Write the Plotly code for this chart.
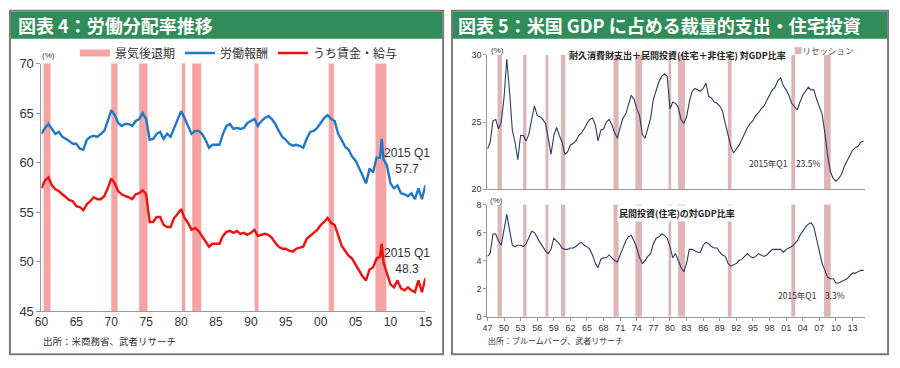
import plotly.graph_objects as go

# ---------------- DATA ----------------
# Left chart (図表4): half-yearly observations 1960.0 ... 2015.0 (+ 2008Q4 spike)
left_years = [1960 + 0.5 * i for i in range(97)] + [2008.5, 2008.75] + [2009 + 0.5 * i for i in range(13)]

labor_comp = [
    62.9, 63.5, 63.9, 63.4, 62.9, 63.1, 62.6, 62.4, 62.1, 61.9,   # 60-64
    61.9, 61.4, 61.3, 62.3, 62.6, 62.7, 62.6, 62.9, 63.2, 64.2,   # 65-69
    65.3, 64.8, 64.0, 63.7, 63.9, 63.9, 63.7, 64.2, 64.4, 65.0,   # 70-74
    64.4, 62.3, 62.4, 62.9, 63.1, 62.4, 62.9, 62.6, 63.5, 64.4,   # 75-79
    65.2, 64.5, 63.7, 62.9, 63.2, 63.2, 62.9, 62.3, 61.5, 61.8,   # 80-84
    61.8, 61.8, 62.9, 63.7, 63.9, 63.4, 63.5, 63.4, 63.5, 64.0,   # 85-89
    64.2, 64.4, 63.7, 64.2, 64.5, 64.7, 64.4, 63.9, 63.2, 62.6,   # 90-94
    62.3, 61.9, 61.7, 61.8, 61.7, 61.5, 62.4, 63.1, 63.2, 63.5,   # 95-99
    64.0, 64.5, 64.8, 64.4, 64.2, 62.9, 62.3, 61.6, 61.3, 60.6,   # 00-04
    60.2, 59.5, 58.7, 57.9, 59.4, 59.0, 60.5, 60.5, 62.4,         # 05-08
    60.3, 59.7, 57.9, 57.4, 57.7, 56.9, 56.8, 56.6, 56.9, 56.3,   # 09-13
    57.4, 56.3, 57.7,                                             # 14-15
]
wages = [
    57.4, 58.2, 58.5, 57.7, 57.3, 57.1, 56.8, 56.5, 56.2, 56.1,
    55.6, 55.5, 55.2, 55.8, 56.1, 56.5, 56.3, 56.3, 56.6, 57.4,
    58.4, 57.9, 57.1, 56.8, 56.6, 56.5, 56.3, 56.8, 56.9, 57.2,
    56.8, 54.0, 54.0, 54.5, 54.5, 53.7, 53.5, 53.5, 54.4, 54.8,
    55.3, 54.4, 53.9, 53.2, 53.4, 53.1, 52.6, 52.1, 51.5, 51.8,
    51.8, 51.8, 52.6, 53.0, 53.1, 52.9, 53.1, 52.8, 52.9, 52.7,
    52.9, 53.2, 52.6, 52.7, 52.8, 52.7, 52.4, 51.9, 51.5, 51.3,
    51.3, 51.1, 51.0, 51.3, 51.4, 51.5, 52.3, 52.6, 52.9, 53.2,
    53.7, 54.0, 54.4, 53.9, 53.7, 52.6, 51.6, 51.1, 50.6, 50.3,
    49.7, 49.0, 48.5, 48.1, 49.2, 49.4, 50.3, 50.5, 51.8,
    49.9, 48.9, 47.7, 47.4, 48.1, 47.3, 47.1, 47.4, 47.1, 46.9,
    48.1, 46.9, 48.3,
]
left_rec_start = [1960.3, 1970.0, 1974.0, 1980.1, 1981.6, 1990.55, 2001.15, 2007.85]
left_rec_end = [1961.3, 1970.9, 1975.2, 1980.6, 1982.9, 1991.1, 2001.9, 2009.4]
left_xticks = [1960, 1965, 1970, 1975, 1980, 1985, 1990, 1995, 2000, 2005, 2010, 2015]
left_xlabels = ["60", "65", "70", "75", "80", "85", "90", "95", "00", "05", "10", "15"]

# Right chart (図表5): half-yearly 1947.0 ... 2015.0
right_years = [1947 + 0.5 * i for i in range(137)]
durable_invest = [
    23.0, 23.5, 25.1, 25.2, 24.5, 25.0, 26.8, 29.7, 27.3, 24.4,   # 47-51
    23.5, 22.2, 24.0, 24.0, 23.6, 24.1, 25.2, 26.2, 25.5, 25.4,   # 52-56
    25.2, 24.9, 23.8, 22.6, 24.0, 24.6, 24.0, 23.5, 22.6, 22.8,   # 57-61
    23.3, 23.4, 23.6, 24.0, 24.2, 24.5, 24.9, 25.2, 25.3, 24.8,   # 62-66
    23.6, 24.4, 24.5, 25.0, 25.2, 24.8, 24.2, 23.8, 24.6, 25.3,   # 67-71
    25.6, 26.4, 27.0, 26.7, 26.0, 25.5, 24.1, 23.8, 24.6, 25.3,   # 72-76
    26.7, 27.4, 28.0, 28.4, 28.6, 28.4, 26.0, 26.5, 26.4, 26.1,   # 77-81
    25.2, 24.9, 25.4, 26.5, 27.3, 27.5, 27.4, 27.3, 27.5, 27.9,   # 82-86
    26.9, 26.8, 26.5, 26.4, 26.2, 25.8, 24.9, 24.1, 23.2, 22.7,   # 87-91
    23.0, 23.3, 23.7, 24.2, 24.6, 24.9, 25.1, 25.5, 25.7, 26.0,   # 92-96
    26.2, 26.6, 27.0, 27.4, 27.6, 28.1, 28.3, 27.7, 27.4, 27.0,   # 97-01
    26.4, 26.1, 25.9, 26.5, 27.0, 27.3, 27.6, 27.4, 27.4, 26.7,   # 02-06
    26.1, 25.6, 24.2, 22.5, 21.3, 20.8, 20.6, 20.8, 21.1, 21.7,   # 07-11
    22.1, 22.5, 22.9, 23.1, 23.2, 23.5, 23.6,                     # 12-15
]
residential = [
    4.3, 4.5, 5.9, 5.9, 5.4, 5.1, 6.2, 7.3, 6.2, 5.1,
    5.0, 5.1, 5.1, 5.0, 5.2, 5.7, 6.1, 6.0, 5.6, 5.3,
    5.0, 4.7, 4.5, 4.8, 5.6, 5.4, 5.2, 4.9, 4.8, 4.8,
    4.9, 4.9, 5.0, 5.2, 5.3, 5.1, 5.0, 4.8, 4.4, 3.8,
    3.5, 4.1, 4.2, 4.2, 4.4, 4.2, 4.0, 3.9, 4.4, 5.0,
    5.4, 5.7, 5.8, 5.4, 4.9, 4.2, 3.8, 4.0, 4.3, 4.5,
    5.2, 5.6, 5.7, 5.9, 5.8, 5.6, 5.0, 4.2, 4.5, 4.0,
    3.5, 3.2, 3.8, 4.8, 4.8, 4.7, 4.6, 4.6, 5.1, 5.3,
    5.2, 5.0, 4.9, 4.9, 4.6, 4.4, 4.3, 3.8, 3.6, 3.7,
    3.8, 4.0, 4.1, 4.3, 4.5, 4.3, 4.2, 4.3, 4.5, 4.4,
    4.3, 4.4, 4.6, 4.8, 4.8, 4.8, 4.8, 4.6, 4.8, 4.9,
    5.0, 5.2, 5.4, 5.8, 6.1, 6.4, 6.6, 6.7, 6.4, 5.6,
    4.6, 3.8, 3.3, 2.8, 2.7, 2.7, 2.4, 2.4, 2.5, 2.6,
    2.7, 2.9, 3.1, 3.1, 3.2, 3.3, 3.3,
]
right_rec_start = [1948.83, 1953.46, 1957.5, 1960.29, 1969.78, 1973.74, 1979.74, 1981.47, 1990.47, 2001.93, 2007.85]
right_rec_end = [1949.62, 1954.06, 1958.03, 1961.06, 1970.72, 1974.94, 1980.22, 1982.71, 1991.13, 2002.64, 2009.05]
right_xticks = list(range(1947, 2014, 3))
right_xlabels = ["47", "50", "53", "56", "59", "62", "65", "68", "71", "74", "77", "80",
                 "83", "86", "89", "92", "95", "98", "01", "04", "07", "10", "13"]

# ---------------- STYLE ----------------
W, H = 900, 368
def px(x):
    return x / W
def py(y):
    return 1 - y / H

FONT = "Liberation Sans, Arial, Noto Sans CJK JP, sans-serif"
JP = "Noto Sans CJK JP, sans-serif"
GREEN = "#308D59"
LPINK = "#F6A3A3"
RPINK = "#DDB5B5"
BLUE = "#1F78C8"
RED = "#F01010"
NAVY = "#2B3A67"
AX = "#9a9a9a"

fig = go.Figure()

# legend entries (left)
fig.add_trace(go.Scatter(x=[None], y=[None], mode="lines", name="景気後退期",
                         line=dict(color=LPINK, width=7), xaxis="x", yaxis="y"))
fig.add_trace(go.Scatter(x=left_years, y=labor_comp, mode="lines", name="労働報酬",
                         line=dict(color=BLUE, width=2.4), xaxis="x", yaxis="y"))
fig.add_trace(go.Scatter(x=left_years, y=wages, mode="lines", name="うち賃金・給与",
                         line=dict(color=RED, width=2.4), xaxis="x", yaxis="y"))
fig.add_trace(go.Scatter(x=right_years, y=durable_invest, mode="lines", showlegend=False,
                         line=dict(color=NAVY, width=1.1), xaxis="x2", yaxis="y2"))
fig.add_trace(go.Scatter(x=right_years, y=residential, mode="lines", showlegend=False,
                         line=dict(color=NAVY, width=1.1), xaxis="x3", yaxis="y3"))

shapes = []
# panel frames and green headers
for x0, x1 in [(3, 443), (452, 895)]:
    shapes.append(dict(type="rect", xref="paper", yref="paper", x0=px(x0), x1=px(x1),
                       y0=py(362), y1=py(4), line=dict(color="#7a7a7a", width=2),
                       fillcolor="rgba(0,0,0,0)", layer="above"))
    shapes.append(dict(type="rect", xref="paper", yref="paper", x0=px(x0 + 1), x1=px(x1 - 1),
                       y0=py(33), y1=py(5), line=dict(width=0), fillcolor=GREEN, layer="below"))

# recession bands
for s, e in zip(left_rec_start, left_rec_end):
    shapes.append(dict(type="rect", xref="x", yref="y domain", x0=s, x1=e, y0=0, y1=1,
                       fillcolor=LPINK, line=dict(width=0), layer="below"))
for s, e in zip(right_rec_start, right_rec_end):
    for xr, yr in [("x2", "y2 domain"), ("x3", "y3 domain")]:
        shapes.append(dict(type="rect", xref=xr, yref=yr, x0=s, x1=e, y0=0, y1=1,
                           fillcolor=RPINK, line=dict(width=0), layer="below"))

ann = []
def note(text, x, y, size, color="#333", xref="paper", yref="paper", xanchor="center",
         yanchor="middle", family=FONT, bg=None, align="center"):
    d = dict(text=text, x=x, y=y, xref=xref, yref=yref, xanchor=xanchor, yanchor=yanchor,
             showarrow=False, font=dict(size=size, color=color, family=family), align=align)
    if bg:
        d["bgcolor"] = bg
    ann.append(d)

note("<b>図表 4：労働分配率推移</b>", px(9), py(19), 18, "white", xanchor="left", family=JP)
note("<b>図表 5：米国 GDP に占める裁量的支出・住宅投資</b>", px(456), py(19), 18, "white",
     xanchor="left", family=JP)
note("(%)", px(34), py(51), 8, "#333", xanchor="left")
note("2015 Q1<br>57.7", 2012.4, 60.2, 12, "#333", xref="x", yref="y")
note("2015 Q1<br>48.3", 2012.4, 50.1, 12, "#333", xref="x", yref="y")
note("出所：米商務省、武者リサーチ", px(35), py(348), 9.5, "#333", xanchor="left", family=JP)

note("(%)", px(490), py(45), 8, "#333", xanchor="left")
note("<b>耐久消費財支出＋民間投資(住宅＋非住宅) 対GDP比率</b>", px(681), py(51), 9, "#222", family=JP)
note('<span style="color:%s">■</span>リセッション' % RPINK, px(797), py(45), 8.5, "#555",
     xanchor="left", family=JP)
note("2015年Q1　23.5%", px(790), py(163), 8.5, "#333", family=JP)
note("(%)", px(489), py(202), 8, "#333", xanchor="left")
note("<b>民間投資(住宅)の対GDP比率</b>", px(681), py(215), 9, "#222", family=JP, bg="white")
note("2015年Q1　3.3%", px(817), py(300), 8.5, "#333", family=JP)
note("出所：ブルームバーグ、武者リサーチ", px(487), py(348), 8, "#333", xanchor="left", family=JP)

axis_common = dict(showgrid=False, zeroline=False, showline=True, linecolor=AX, linewidth=1)

fig.update_layout(
    width=W, height=H, margin=dict(l=0, r=0, t=0, b=0),
    paper_bgcolor="white", plot_bgcolor="rgba(0,0,0,0)",
    font=dict(family=FONT, color="#333"),
    shapes=shapes, annotations=ann,
    showlegend=True,
    legend=dict(orientation="h", x=px(69), y=py(48), xanchor="left", yanchor="middle",
                font=dict(size=12, family=JP, color="#333"), bgcolor="rgba(0,0,0,0)",
                traceorder="normal", itemwidth=30),
    xaxis=dict(domain=[px(35), px(425)], range=[1960, 2015], tickvals=left_xticks,
               ticktext=left_xlabels, tickfont=dict(size=12), anchor="y", ticks="", **axis_common),
    yaxis=dict(domain=[py(317), py(59)], range=[45, 70], tickvals=[45, 50, 55, 60, 65, 70],
               tickfont=dict(size=13), ticks="outside", ticklen=4, tickcolor=AX, anchor="x",
               **axis_common),
    xaxis2=dict(domain=[px(488), px(872)], range=[1947, 2015.33], showticklabels=False,
                anchor="y2", ticks="", **axis_common),
    yaxis2=dict(domain=[py(190), py(50)], range=[20, 30], tickvals=[20, 25, 30],
                tickfont=dict(size=9), ticks="outside", ticklen=3, tickcolor=AX, anchor="x2",
                **axis_common),
    xaxis3=dict(domain=[px(488), px(872)], range=[1947, 2015.33], tickvals=right_xticks,
                ticktext=right_xlabels, tickfont=dict(size=9), ticks="outside", ticklen=3,
                tickcolor=AX, anchor="y3", **axis_common),
    yaxis3=dict(domain=[py(322.7), py(206)], range=[0, 8], tickvals=[0, 2, 4, 6, 8],
                tickfont=dict(size=9), ticks="outside", ticklen=3, tickcolor=AX, anchor="x3",
                **axis_common),
)

fig.write_html("out.html", config={"displayModeBar": False},
               post_script="document.body.style.margin='0';document.body.style.overflow='hidden';")
